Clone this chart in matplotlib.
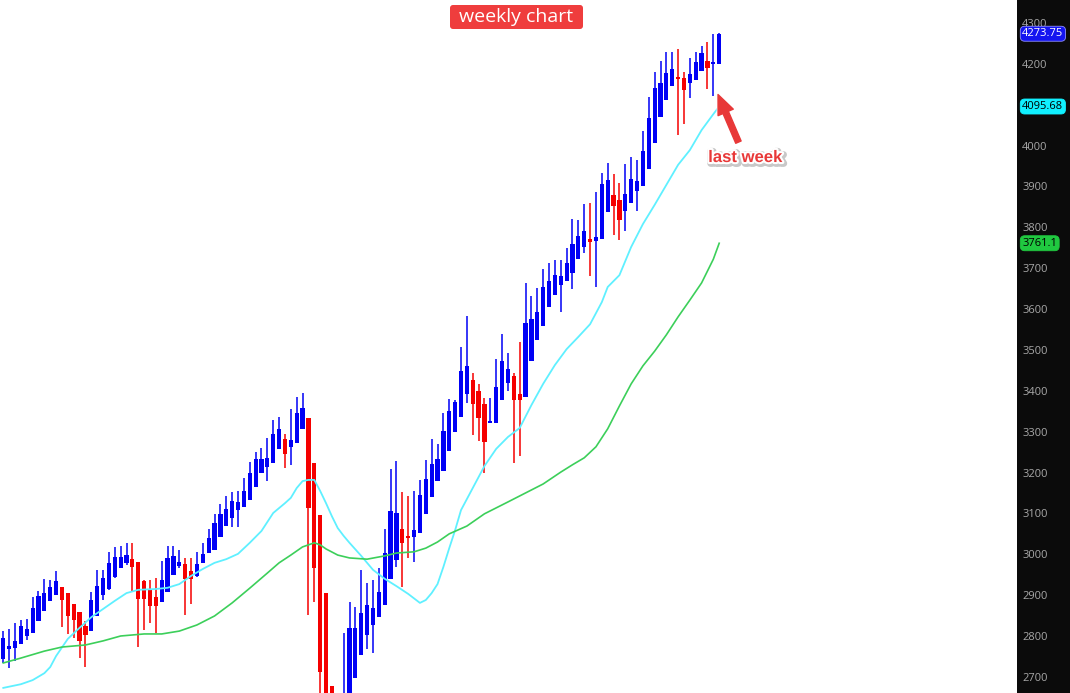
import numpy as np
import matplotlib.pyplot as plt
import matplotlib.patheffects as pe
from matplotlib.patches import FancyBboxPatch
from matplotlib.transforms import IdentityTransform

plt.rcParams['font.family'] = ['Open Sans', 'DejaVu Sans']

# weekly candles (oldest first)
opens = [2744, 2768, 2771, 2780, 2800, 2807, 2837, 2861, 2886, 2900,
         2920, 2905, 2878, 2859, 2825, 2812, 2849, 2900, 2915, 2944,
         2966, 2979, 2988, 2981, 2935, 2913, 2895, 2883, 2908, 2949,
         2971, 2976, 2959, 2947, 2979, 3003, 3010, 3042, 3069, 3089,
         3108, 3116, 3133, 3165, 3199, 3214, 3223, 3258, 3282, 3263,
         3272, 3307, 3334, 3223, 3096, 2905, 2678, 2560, 2450, 2620,
         2697, 2754, 2803, 2827, 2847, 2876, 2940, 2986, 3062, 3045,
         3042, 3052, 3099, 3140, 3179, 3204, 3253, 3299, 3336, 3392,
         3426, 3400, 3368, 3321, 3321, 3378, 3419, 3436, 3392, 3385,
         3473, 3524, 3559, 3605, 3634, 3659, 3669, 3688, 3723, 3752,
         3772, 3767, 3772, 3838, 3879, 3867, 3840, 3860, 3889, 3901,
         3943, 4006, 4070, 4112, 4146, 4168, 4165, 4153, 4161, 4183,
         4207, 4200, 4200]
highs = [2812, 2817, 2832, 2839, 2842, 2895, 2910, 2940, 2937, 2959,
         2920, 2905, 2878, 2859, 2837, 2908, 2962, 2962, 3006, 3018,
         3020, 3028, 3028, 2981, 2937, 2937, 2942, 2984, 3020, 3020,
         3010, 2991, 2991, 3006, 3028, 3062, 3099, 3123, 3143, 3152,
         3155, 3187, 3226, 3250, 3260, 3285, 3329, 3336, 3294, 3356,
         3385, 3395, 3334, 3223, 3096, 2905, 2678, 2580, 2807, 2883,
         2871, 2962, 2930, 2937, 2966, 3062, 3209, 3228, 3152, 3143,
         3155, 3182, 3231, 3282, 3270, 3346, 3380, 3378, 3507, 3583,
         3444, 3417, 3382, 3382, 3478, 3539, 3493, 3444, 3519, 3664,
         3632, 3652, 3698, 3713, 3720, 3720, 3749, 3820, 3818, 3857,
         3860, 3887, 3933, 3957, 3931, 3909, 3955, 3972, 3965, 4036,
         4119, 4180, 4207, 4229, 4229, 4236, 4180, 4214, 4229, 4244,
         4254, 4273, 4275]
lows = [2734, 2722, 2739, 2780, 2790, 2807, 2837, 2861, 2886, 2900,
        2822, 2805, 2795, 2746, 2724, 2812, 2849, 2888, 2913, 2942,
        2966, 2974, 2908, 2773, 2815, 2832, 2807, 2883, 2908, 2949,
        2966, 2851, 2878, 2944, 2979, 3003, 3010, 3042, 3069, 3067,
        3067, 3116, 3133, 3165, 3199, 3179, 3223, 3258, 3211, 3218,
        3272, 3307, 2851, 2883, 2550, 2400, 2300, 2200, 2400, 2600,
        2697, 2754, 2768, 2758, 2847, 2876, 2940, 2969, 2920, 2991,
        2981, 3052, 3099, 3140, 3179, 3204, 3253, 3299, 3336, 3370,
        3292, 3277, 3199, 3321, 3321, 3378, 3400, 3223, 3240, 3385,
        3473, 3524, 3559, 3605, 3634, 3593, 3669, 3649, 3723, 3737,
        3681, 3654, 3772, 3838, 3781, 3769, 3791, 3860, 3840, 3901,
        3943, 4006, 4070, 4112, 4146, 4026, 4053, 4117, 4161, 4183,
        4139, 4121, 4200]
closes = [2795, 2776, 2788, 2825, 2817, 2869, 2898, 2905, 2920, 2935,
          2888, 2849, 2839, 2788, 2803, 2888, 2922, 2942, 2979, 2993,
          2993, 2998, 2969, 2891, 2891, 2873, 2873, 2937, 2991, 2996,
          2981, 2940, 2940, 2976, 3001, 3040, 3077, 3099, 3111, 3130,
          3128, 3155, 3199, 3233, 3233, 3236, 3294, 3307, 3245, 3280,
          3346, 3358, 3113, 2966, 2712, 2500, 2450, 2400, 2620, 2820,
          2820, 2856, 2876, 2869, 2908, 3003, 3106, 3101, 3028, 3040,
          3059, 3145, 3184, 3221, 3233, 3302, 3351, 3373, 3448, 3461,
          3368, 3334, 3275, 3326, 3409, 3473, 3453, 3378, 3378, 3566,
          3576, 3593, 3654, 3669, 3683, 3681, 3713, 3759, 3779, 3791,
          3764, 3776, 3906, 3916, 3852, 3818, 3882, 3918, 3913, 3987,
          4068, 4141, 4153, 4178, 4188, 4163, 4136, 4175, 4205, 4227,
          4190, 4202, 4273.75]

# moving averages (week index, value)
fast_wk = [0, 3, 5, 7, 8, 9, 11, 13, 15, 17, 19, 21, 23, 26, 28, 30, 32, 34,
           36, 38, 40, 42, 44, 46, 48, 49, 50, 51, 52, 53, 54, 55, 56, 57, 58,
           59, 61, 63, 65, 67, 69, 71, 72, 73, 74, 75, 76, 77, 78, 80, 82, 84,
           86, 88, 90, 92, 94, 96, 98, 100, 102, 103, 105, 107, 109, 111, 113,
           115, 117, 119, 121, 122]
fast_ma = [2673, 2682, 2692, 2709, 2724, 2751, 2793, 2820, 2846, 2866, 2886,
           2905, 2913, 2915, 2918, 2927, 2947, 2964, 2979, 2988, 3001, 3028,
           3057, 3101, 3125, 3138, 3162, 3179, 3182, 3182, 3155, 3125, 3093,
           3064, 3045, 3028, 2996, 2962, 2940, 2922, 2903, 2881, 2888, 2905,
           2927, 2969, 3015, 3059, 3108, 3162, 3216, 3258, 3287, 3309, 3365,
           3417, 3463, 3502, 3532, 3563, 3617, 3654, 3683, 3752, 3808, 3855,
           3904, 3953, 3989, 4038, 4077, 4095.68]
slow_wk = [0, 3, 7, 10, 14, 17, 20, 24, 27, 30, 33, 36, 39, 42, 45, 47, 49, 51,
           52, 53, 54, 55, 57, 59, 62, 65, 67, 70, 72, 74, 76, 79, 82, 86, 89,
           92, 95, 97, 99, 101, 103, 105, 107, 109, 111, 113, 115, 117, 119,
           121, 122]
slow_ma = [2734, 2746, 2763, 2773, 2778, 2788, 2800, 2805, 2805, 2812, 2827,
           2849, 2881, 2917, 2954, 2979, 2998, 3018, 3023, 3028, 3023, 3013,
           2998, 2991, 2988, 2996, 3003, 3006, 3015, 3030, 3050, 3069, 3099,
           3128, 3150, 3172, 3201, 3219, 3236, 3263, 3307, 3363, 3417, 3461,
           3497, 3537, 3581, 3622, 3664, 3722, 3761.1]

# 4100 sits under the cyan price tag, so it is not printed
price_ticks = [2700, 2800, 2900, 3000, 3100, 3200, 3300, 3400, 3500,
               3600, 3700, 3800, 3900, 4000, 4200, 4300]
last_close = 4273.75
fast_last = 4095.68
slow_last = 3761.1

W, H = 1070, 693
split = 1017
fig = plt.figure(figsize=(W / 100, H / 100), dpi=100)
ax = fig.add_axes([0, 0, split / W, 1])
axr = fig.add_axes([split / W, 0, 1 - split / W, 1])

wk = np.arange(len(opens))
o = np.array(opens, dtype=float)
c = np.array(closes, dtype=float)
up = c >= o
col = np.where(up, '#0000f5', '#f50000')

ax.vlines(wk, lows, highs, colors=col, lw=1.1, zorder=2)
ax.bar(wk, np.maximum(np.abs(c - o), 5), bottom=np.minimum(o, c), width=0.72,
       color=col, linewidth=0, zorder=2)

ax.plot(fast_wk, fast_ma, color='#5ff0ff', lw=1.3, zorder=3)
ax.plot(slow_wk, slow_ma, color='#3ccf5a', lw=1.2, zorder=3)

ax.set_xlim(-0.56, 172.75)
ax.set_ylim(2660.5, 4356.3)
ax.axis('off')

# right price scale
axr.set_facecolor('#0b0b0b')
axr.set_ylim(ax.get_ylim())
axr.set_xlim(0, 1)
axr.set_xticks([])
axr.set_yticks(price_ticks)
axr.tick_params(axis='y', length=0, pad=-3.8, labelsize=8, labelcolor='#a8a8a8')
for t in axr.get_yticklabels():
    t.set_ha('left')
for s in axr.spines.values():
    s.set_visible(False)

box = 'round,pad=0.18,rounding_size=0.4'
axr.text(0.1, last_close, f'{last_close:.2f}', color='white', fontsize=8,
         va='center', ha='left', zorder=5,
         bbox=dict(boxstyle=box, fc='#1414f0', ec='#9090ff', lw=0.6))
axr.text(0.1, fast_last, f'{fast_last:.2f}', color='black', fontsize=8,
         va='center', ha='left', zorder=5,
         bbox=dict(boxstyle=box, fc='#10f0ff', ec='#10f0ff', lw=0.6))
axr.text(0.1, slow_last, f'{slow_last}', color='black', fontsize=8,
         va='center', ha='left', zorder=5,
         bbox=dict(boxstyle=box, fc='#20c840', ec='#20c840', lw=0.6))

# title badge
fig.patches.append(FancyBboxPatch((450, H - 29), 133, 24,
                                  boxstyle='round,pad=0,rounding_size=3',
                                  fc='#ef3d3d', ec='none',
                                  transform=IdentityTransform(), figure=fig))
fig.text(516.5 / W, 1 - 17 / H, 'weekly chart', ha='center', va='center',
         color='white', fontsize=14)

# last week marker
halo = [pe.Stroke(linewidth=5, foreground='#c8c8c8', offset=(1, -1)),
        pe.withStroke(linewidth=3, foreground='white')]
ax.annotate('last week', xy=(len(opens) - 1.2, 4125), xytext=(27, -63),
            textcoords='offset pixels', ha='center', va='center',
            fontsize=12, fontweight='bold', family='Liberation Sans',
            color='#e83838', path_effects=halo,
            arrowprops=dict(arrowstyle='simple,head_length=1.0,head_width=0.85,tail_width=0.3',
                            mutation_scale=14, color='#e83838', shrinkA=4, shrinkB=0,
                            path_effects=[pe.withStroke(linewidth=2, foreground='white')]))

fig.savefig('out.png', dpi=100)
